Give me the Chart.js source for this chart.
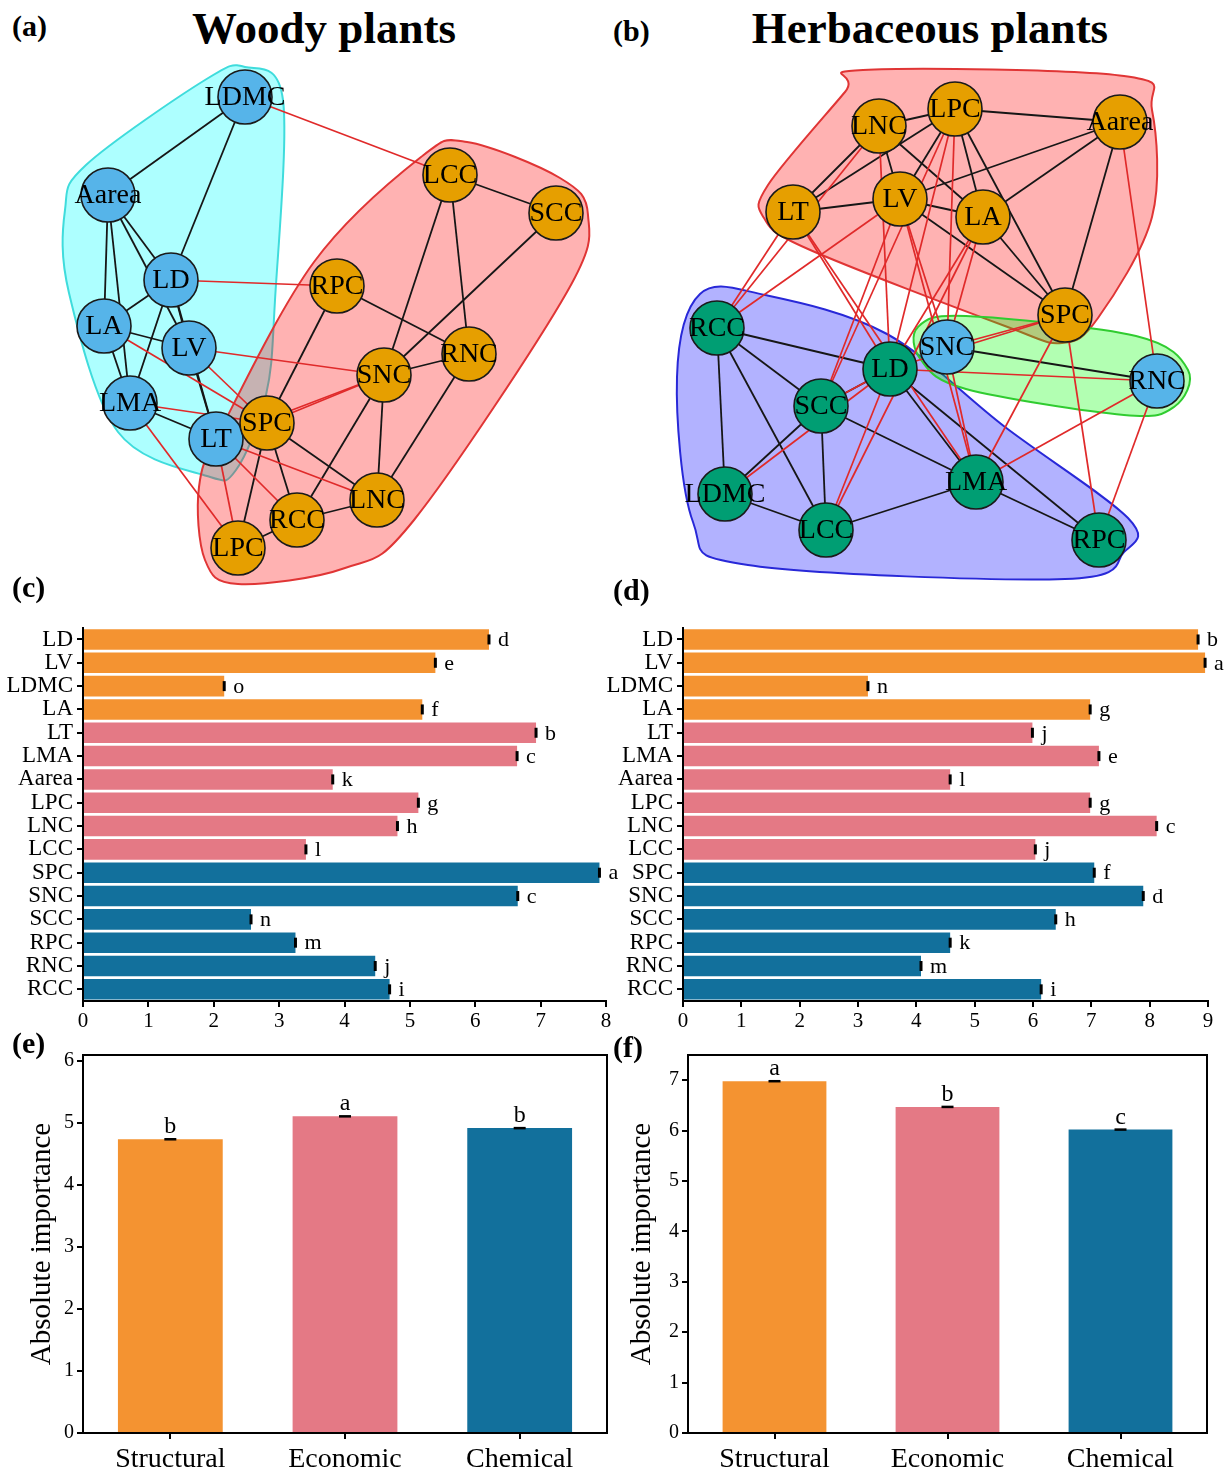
<!DOCTYPE html>
<html><head><meta charset="utf-8">
<script src="https://cdn.jsdelivr.net/npm/chart.js@4.4.0/dist/chart.umd.min.js"></script>
<style>
html,body{margin:0;padding:0;background:#fff;}
body{width:1229px;height:1473px;position:relative;overflow:hidden;font-family:"Liberation Serif","Times New Roman",serif;}
canvas{position:absolute;}
.t{position:absolute;font-weight:bold;line-height:1;white-space:nowrap;color:#000;}
</style></head><body>
<canvas id="ca" width="610" height="530" style="left:0;top:60px"></canvas>
<canvas id="cb" width="619" height="530" style="left:610px;top:60px"></canvas>
<canvas id="cc" width="625" height="430" style="left:0;top:610px"></canvas>
<canvas id="cd" width="631" height="430" style="left:598px;top:610px"></canvas>
<canvas id="ce" width="615" height="433" style="left:0;top:1040px"></canvas>
<canvas id="cf" width="614" height="433" style="left:615px;top:1040px"></canvas>

<div class="t" style="font-size:45px;left:324px;top:6px;transform:translateX(-50%)">Woody plants</div>
<div class="t" style="font-size:45px;left:930px;top:6px;transform:translateX(-50%)">Herbaceous plants</div>
<div class="t" style="font-size:30px;left:12px;top:11px">(a)</div>
<div class="t" style="font-size:30px;left:613px;top:16px">(b)</div>
<div class="t" style="font-size:30px;left:12px;top:572px">(c)</div>
<div class="t" style="font-size:30px;left:613px;top:575px">(d)</div>
<div class="t" style="font-size:30px;left:12px;top:1028px">(e)</div>
<div class="t" style="font-size:30px;left:613px;top:1032px">(f)</div>

<script>
const SERIF = "'Liberation Serif','Times New Roman',serif";

// ---------- Panel (a): woody plant trait network ----------
const woodyNodes = ['LDMC','Aarea','LD','LA','LV','LMA','LT','SPC','LCC','SCC','RPC','RNC','SNC','LNC','RCC','LPC'];
const woodyX     = [245, 108, 171, 104, 189, 130, 216, 267, 450, 556, 337, 469, 384, 377, 297, 238];
const woodyY     = [97, 195, 280, 326, 348, 403, 439, 423, 175, 213, 286, 354, 375, 500, 520, 548];
const woodyModule = [0,0,0,0,0,0,0,1,1,1,1,1,1,1,1,1];
const woodyBlackEdges = [
  ['LDMC','Aarea'],['LDMC','LD'],['Aarea','LD'],['Aarea','LV'],['Aarea','LA'],['Aarea','LMA'],
  ['LD','LA'],['LD','LV'],['LD','LT'],['LD','LMA'],['LA','LV'],['LA','LMA'],['LV','LT'],['LMA','LT'],
  ['LCC','SCC'],['LCC','SNC'],['LCC','RNC'],['SCC','SNC'],['RPC','RNC'],['RPC','SPC'],['SNC','RNC'],
  ['SNC','LNC'],['SNC','RCC'],['RNC','LNC'],['RCC','LNC'],['RCC','LPC'],['SPC','LNC'],['SPC','RCC'],['SPC','LPC']
];
const woodyRedEdges = [
  ['LDMC','LCC'],['LD','RPC'],['LV','SNC'],['LA','SPC'],['LV','SPC'],['LMA','SPC'],['LMA','LPC'],
  ['LT','LPC'],['LT','RCC'],['LT','LNC'],['SPC','SNC'],['LT','SNC']
];
const woodyHulls = [
  {fill:'rgba(0,255,255,0.32)', line:'#3fdcdc', pts:[[245,67],[283,100],[275,300],[266,395],[236,470],[207,476],[118,432],[69,293],[65,210],[86,165],[205,80]]},
  {fill:'rgba(255,0,0,0.30)', line:'#e03535', pts:[[467,142],[560,178],[588,215],[567,292],[414,520],[345,568],[238,584],[205,560],[199,487],[222,427],[314,262],[421,157]]}
];

// ---------- Panel (b): herbaceous plant trait network ----------
const herbNodes = ['LNC','LPC','Aarea','LT','LV','LA','SPC','SNC','RNC','RCC','LD','SCC','LDMC','LCC','LMA','RPC'];
const herbX     = [879, 955, 1120, 793, 900, 983, 1065, 947, 1157, 717, 890, 821, 725, 826, 976, 1099];
const herbY     = [126, 109, 122, 212, 199, 217, 315, 347, 381, 328, 369, 406, 494, 530, 482, 540];
const herbModule = [1,1,1,1,1,1,1,0,0,2,2,2,2,2,2,2];
const herbBlackEdges = [
  ['LNC','LPC'],['LT','LPC'],['LNC','LT'],['LNC','LV'],['LNC','LA'],['LPC','Aarea'],['LPC','LV'],['LPC','LA'],
  ['LPC','SPC'],['Aarea','LV'],['Aarea','LA'],['Aarea','SPC'],['LT','LV'],['LV','LA'],['LV','SPC'],['LA','SPC'],
  ['RCC','LD'],['RCC','SCC'],['RCC','LDMC'],['RCC','LCC'],['LD','SCC'],['LD','LMA'],['LD','RPC'],['SCC','LDMC'],
  ['SCC','LCC'],['SCC','LMA'],['LDMC','LCC'],['LCC','LMA'],['LMA','RPC'],['SNC','RNC']
];
const herbRedEdges = [
  ['LT','RCC'],['LNC','RCC'],['LV','RCC'],['LT','LD'],['LT','LMA'],['LNC','LD'],['LV','SCC'],['LV','SNC'],
  ['LV','LMA'],['LPC','SNC'],['LPC','LD'],['LPC','SCC'],['LA','LD'],['LA','LCC'],['LA','SNC'],['Aarea','RNC'],
  ['SPC','SNC'],['SPC','LD'],['SPC','LMA'],['SPC','RPC'],['RNC','LMA'],['RNC','RPC'],['RNC','LD'],['SNC','LMA'],
  ['LD','LDMC'],['LD','LCC'],['SCC','LD']
];
const herbHulls = [
  {fill:'rgba(255,0,0,0.30)', line:'#e03535', pts:[[863,70],[1124,76],[1152,110],[1152,217],[1098,318],[1062,343],[1005,326],[808,249],[764,218],[768,185],[845,92]]},
  {fill:'rgba(0,0,255,0.30)', line:'#2828d8', pts:[[700,294],[765,295],[887,334],[1005,427],[1128,518],[1124,552],[1065,579],[748,565],[693,522],[677,377]]},
  {fill:'rgba(0,255,0,0.30)', line:'#30cc30', pts:[[918,327],[966,316],[1136,336],[1188,370],[1174,407],[1124,415],[966,389],[921,360]]}
];
const moduleColorsWoody = ['#56B4E9','#E69F00'];
const moduleColorsHerb  = ['#56B4E9','#E69F00','#009E73'];

// ---------- Panels (c)/(d): trait importance ----------
const traits = ['LD','LV','LDMC','LA','LT','LMA','Aarea','LPC','LNC','LCC','SPC','SNC','SCC','RPC','RNC','RCC'];
const traitGroup = [0,0,0,0,1,1,1,1,1,1,2,2,2,2,2,2];
const woodyImportance = [6.21, 5.39, 2.16, 5.19, 6.93, 6.64, 3.82, 5.13, 4.81, 3.41, 7.90, 6.65, 2.57, 3.25, 4.47, 4.69];
const woodyLetters    = ['d','e','o','f','b','c','k','g','h','l','a','c','n','m','j','i'];
const herbImportance  = [8.83, 8.95, 3.17, 6.98, 5.99, 7.13, 4.58, 6.98, 8.12, 6.04, 7.05, 7.89, 6.39, 4.58, 4.08, 6.14];
const herbLetters     = ['b','a','n','g','j','e','l','g','c','j','f','d','h','k','m','i'];
const woodyTicksX = [0,1,2,3,4,5,6,7,8];
const herbTicksX  = [0,1,2,3,4,5,6,7,8,9];

// ---------- Panels (e)/(f): trait category importance ----------
const categories = ['Structural','Economic','Chemical'];
const woodyCatImportance = [4.74, 5.11, 4.92];
const woodyCatLetters    = ['b','a','b'];
const woodyCatTicksY     = [0,1,2,3,4,5,6];
const herbCatImportance  = [6.98, 6.47, 6.02];
const herbCatLetters     = ['a','b','c'];
const herbCatTicksY      = [0,1,2,3,4,5,6,7];

const groupColors = ['#F49331','#E47985','#12709C'];

// ---------- helpers ----------
function hullPlugin(hulls){
  return {id:'hulls', beforeDatasetsDraw(chart){
    const ctx = chart.ctx, sx = chart.scales.x, sy = chart.scales.y;
    ctx.save();
    hulls.forEach(h=>{
      const p = h.pts.map(q=>[sx.getPixelForValue(q[0]), sy.getPixelForValue(q[1])]);
      const n = p.length;
      ctx.beginPath();
      ctx.moveTo(p[0][0], p[0][1]);
      for(let i=0;i<n;i++){
        const p0=p[(i-1+n)%n], p1=p[i], p2=p[(i+1)%n], p3=p[(i+2)%n];
        ctx.bezierCurveTo(p1[0]+(p2[0]-p0[0])/6, p1[1]+(p2[1]-p0[1])/6,
                          p2[0]-(p3[0]-p1[0])/6, p2[1]-(p3[1]-p1[1])/6, p2[0], p2[1]);
      }
      ctx.closePath();
      ctx.fillStyle = h.fill; ctx.fill();
      ctx.lineWidth = 2; ctx.strokeStyle = h.line; ctx.stroke();
    });
    ctx.restore();
  }};
}
function nodeLabelPlugin(names){
  return {id:'nodelabels', afterDatasetsDraw(chart){
    const ctx = chart.ctx, meta = chart.getDatasetMeta(0);
    ctx.save();
    ctx.font = "28px " + SERIF; ctx.fillStyle = '#000';
    ctx.textAlign = 'center'; ctx.textBaseline = 'middle';
    meta.data.forEach((pt,i)=>ctx.fillText(names[i], pt.x, pt.y+1));
    ctx.restore();
  }};
}
function makeNetwork(id, x0, y0, w, h, names, xs, ys, modules, palette, black, red, hulls){
  const at = n => {const i = names.indexOf(n); return {x: xs[i], y: ys[i]};};
  const ds = [{type:'scatter', data: names.map((n,i)=>({x: xs[i], y: ys[i]})),
    pointRadius: 27, pointHoverRadius: 27, pointBackgroundColor: modules.map(m=>palette[m]),
    pointBorderColor: '#1a1a1a', pointBorderWidth: 1.6, order: 0, clip: false}];
  black.forEach(e=>ds.push({type:'line', data:[at(e[0]), at(e[1])], borderColor:'#161616', borderWidth:1.8, pointRadius:0, order:2}));
  red.forEach(e=>ds.push({type:'line', data:[at(e[0]), at(e[1])], borderColor:'#e02a2a', borderWidth:1.7, pointRadius:0, order:1}));
  new Chart(document.getElementById(id), {
    type:'scatter', data:{datasets: ds},
    options:{responsive:false, animation:false, events:[], layout:{padding:0, autoPadding:false},
      plugins:{legend:{display:false}, tooltip:{enabled:false}},
      scales:{x:{type:'linear', min:x0, max:x0+w, display:false},
              y:{type:'linear', min:y0, max:y0+h, reverse:true, display:false}}},
    plugins:[hullPlugin(hulls), nodeLabelPlugin(names)]
  });
}

function hbarPlugin(letters){
  return {id:'hbarmarks', afterDatasetsDraw(chart){
    const ctx = chart.ctx, meta = chart.getDatasetMeta(0);
    ctx.save();
    ctx.font = "22px " + SERIF; ctx.fillStyle = '#000'; ctx.strokeStyle = '#000';
    ctx.textAlign = 'left'; ctx.textBaseline = 'middle';
    meta.data.forEach((b,i)=>{
      ctx.lineWidth = 3;
      ctx.beginPath(); ctx.moveTo(b.x, b.y-5); ctx.lineTo(b.x, b.y+5); ctx.stroke();
      ctx.fillText(letters[i], b.x+9, b.y+1);
    });
    ctx.restore();
  }};
}
function makeHBar(id, values, letters, xTicks, padRight, yWidth){
  new Chart(document.getElementById(id), {
    type:'bar',
    data:{labels: traits, datasets:[{data: values, backgroundColor: traitGroup.map(g=>groupColors[g]),
      barPercentage:0.88, categoryPercentage:1}]},
    options:{indexAxis:'y', responsive:false, animation:false, events:[],
      layout:{padding:{top:12, right:padRight, left:0, bottom:0}},
      plugins:{legend:{display:false}, tooltip:{enabled:false}},
      scales:{
        x:{type:'linear', min: xTicks[0], max: xTicks[xTicks.length-1],
           afterBuildTicks(s){ s.ticks = xTicks.map(v=>({value:v})); },
           ticks:{color:'#000', font:{family:SERIF, size:21}, padding:2, maxRotation:0},
           grid:{drawOnChartArea:false, drawTicks:true, tickLength:6, color:'#000', lineWidth:2},
           border:{display:true, color:'#000', width:2},
           afterFit(s){ s.height = 39; }},
        y:{ticks:{color:'#000', font:{family:SERIF, size:23}, padding:4, autoSkip:false},
           grid:{offset:false, drawOnChartArea:false, drawTicks:true, tickLength:6, color:'#000', lineWidth:2},
           border:{display:true, color:'#000', width:2},
           afterFit(s){ s.width = yWidth; }}
      }},
    plugins:[hbarPlugin(letters)]
  });
}

function vbarPlugin(letters){
  return {id:'vbarmarks', afterDatasetsDraw(chart){
    const ctx = chart.ctx, meta = chart.getDatasetMeta(0), a = chart.chartArea;
    ctx.save();
    ctx.strokeStyle = '#000'; ctx.lineWidth = 2;
    ctx.strokeRect(a.left, a.top, a.right-a.left, a.bottom-a.top);
    ctx.font = "24px " + SERIF; ctx.fillStyle = '#000';
    ctx.textAlign = 'center'; ctx.textBaseline = 'alphabetic';
    meta.data.forEach((b,i)=>{
      ctx.lineWidth = 2.5;
      ctx.beginPath(); ctx.moveTo(b.x-6, b.y); ctx.lineTo(b.x+6, b.y); ctx.stroke();
      ctx.fillText(letters[i], b.x, b.y-6);
    });
    ctx.restore();
  }};
}
function makeVBar(id, values, letters, yTicks, yMax, padRight, yWidth, titlePad){
  new Chart(document.getElementById(id), {
    type:'bar',
    data:{labels: categories, datasets:[{data: values, backgroundColor: groupColors,
      barPercentage:0.6, categoryPercentage:1}]},
    options:{responsive:false, animation:false, events:[],
      layout:{padding:{top:15, right:padRight, left:0, bottom:0}},
      plugins:{legend:{display:false}, tooltip:{enabled:false}},
      scales:{
        x:{ticks:{color:'#000', font:{family:SERIF, size:28}, padding:4, maxRotation:0},
           grid:{offset:false, drawOnChartArea:false, drawTicks:true, tickLength:6, color:'#000', lineWidth:2},
           border:{display:true, color:'#000', width:2},
           afterFit(s){ s.height = 40; }},
        y:{min:0, max:yMax,
           afterBuildTicks(s){ s.ticks = yTicks.map(v=>({value:v})); },
           ticks:{color:'#000', font:{family:SERIF, size:20}, padding:3},
           grid:{drawOnChartArea:false, drawTicks:true, tickLength:6, color:'#000', lineWidth:2},
           border:{display:true, color:'#000', width:2},
           title:{display:true, text:'Absolute importance', color:'#000', font:{family:SERIF, size:29}, padding:{top:titlePad, bottom:0}},
           afterFit(s){ s.width = yWidth; }}
      }},
    plugins:[vbarPlugin(letters)]
  });
}

makeNetwork('ca', 0, 60, 610, 530, woodyNodes, woodyX, woodyY, woodyModule, moduleColorsWoody, woodyBlackEdges, woodyRedEdges, woodyHulls);
makeNetwork('cb', 610, 60, 619, 530, herbNodes, herbX, herbY, herbModule, moduleColorsHerb, herbBlackEdges, herbRedEdges, herbHulls);
makeHBar('cc', woodyImportance, woodyLetters, woodyTicksX, 19, 83);
makeHBar('cd', herbImportance, herbLetters, herbTicksX, 21, 85);
makeVBar('ce', woodyCatImportance, woodyCatLetters, woodyCatTicksY, 6.1, 8, 83, 25);
makeVBar('cf', herbCatImportance, herbCatLetters, herbCatTicksY, 7.5, 22, 73, 10);
</script>
</body></html>
